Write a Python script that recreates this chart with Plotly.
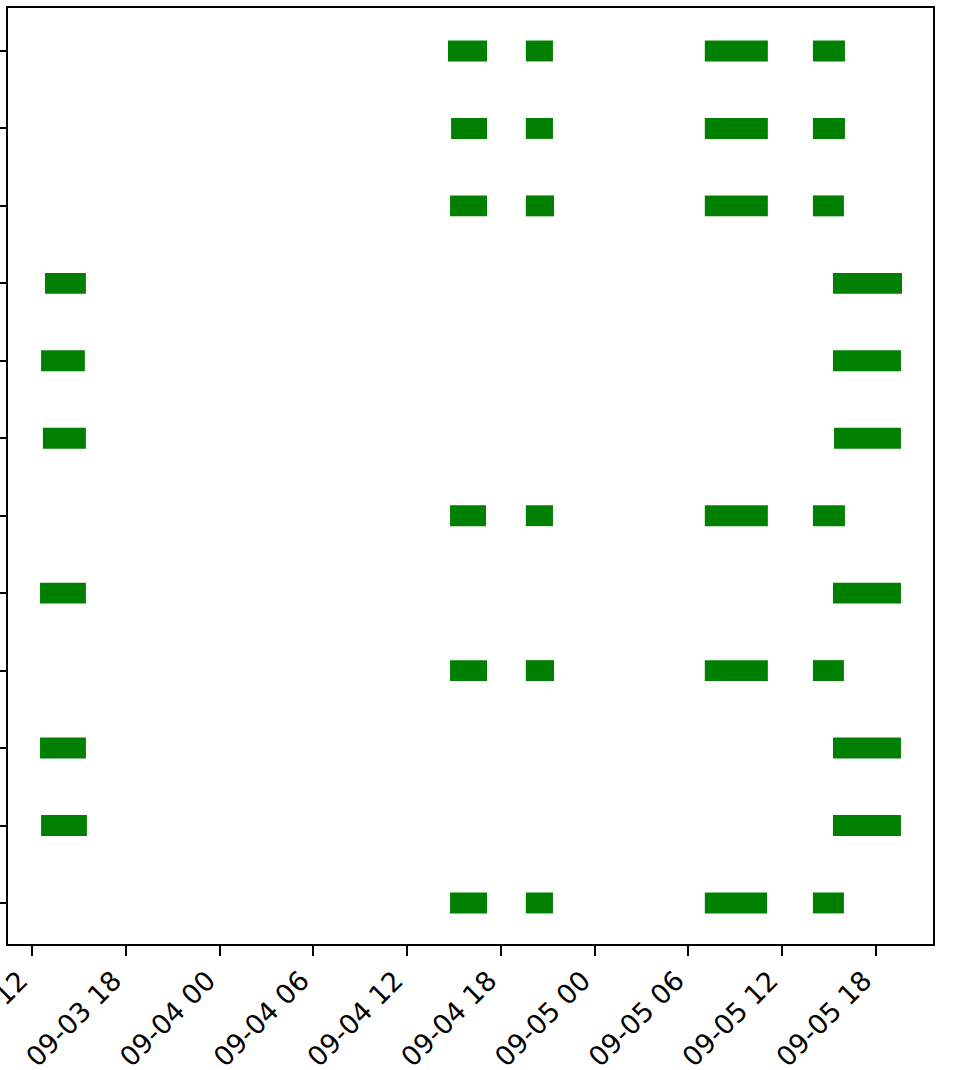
import plotly.graph_objects as go
import pandas as pd

# Lane index (0 = bottom row, 11 = top row) for each bar
bar_lane = [
    11, 11, 11, 11,
    10, 10, 10, 10,
    9, 9, 9, 9,
    8, 8,
    7, 7,
    6, 6,
    5, 5, 5, 5,
    4, 4,
    3, 3, 3, 3,
    2, 2,
    1, 1,
    0, 0, 0, 0,
]
bar_start = [
    "2024-09-04 14:37", "2024-09-04 19:36", "2024-09-05 07:03", "2024-09-05 13:58",
    "2024-09-04 14:49", "2024-09-04 19:36", "2024-09-05 07:03", "2024-09-05 13:58",
    "2024-09-04 14:45", "2024-09-04 19:36", "2024-09-05 07:03", "2024-09-05 13:58",
    "2024-09-03 12:50", "2024-09-05 15:15",
    "2024-09-03 12:35", "2024-09-05 15:15",
    "2024-09-03 12:42", "2024-09-05 15:19",
    "2024-09-04 14:45", "2024-09-04 19:36", "2024-09-05 07:03", "2024-09-05 13:58",
    "2024-09-03 12:31", "2024-09-05 15:15",
    "2024-09-04 14:45", "2024-09-04 19:36", "2024-09-05 07:03", "2024-09-05 13:58",
    "2024-09-03 12:31", "2024-09-05 15:15",
    "2024-09-03 12:35", "2024-09-05 15:15",
    "2024-09-04 14:45", "2024-09-04 19:36", "2024-09-05 07:03", "2024-09-05 13:58",
]
bar_end = [
    "2024-09-04 17:07", "2024-09-04 21:20", "2024-09-05 11:05", "2024-09-05 16:01",
    "2024-09-04 17:07", "2024-09-04 21:20", "2024-09-05 11:05", "2024-09-05 16:01",
    "2024-09-04 17:07", "2024-09-04 21:24", "2024-09-05 11:05", "2024-09-05 15:57",
    "2024-09-03 15:27", "2024-09-05 19:40",
    "2024-09-03 15:23", "2024-09-05 19:36",
    "2024-09-03 15:27", "2024-09-05 19:36",
    "2024-09-04 17:03", "2024-09-04 21:20", "2024-09-05 11:05", "2024-09-05 16:01",
    "2024-09-03 15:27", "2024-09-05 19:36",
    "2024-09-04 17:07", "2024-09-04 21:24", "2024-09-05 11:05", "2024-09-05 15:57",
    "2024-09-03 15:27", "2024-09-05 19:36",
    "2024-09-03 15:31", "2024-09-05 19:36",
    "2024-09-04 17:07", "2024-09-04 21:20", "2024-09-05 11:02", "2024-09-05 15:57",
]
lanes = list(range(12))
x_ticks = ["2024-09-03 12:00", "2024-09-03 18:00", "2024-09-04 00:00", "2024-09-04 06:00",
           "2024-09-04 12:00", "2024-09-04 18:00", "2024-09-05 00:00", "2024-09-05 06:00",
           "2024-09-05 12:00", "2024-09-05 18:00"]
x_tick_text = ["09-03 12", "09-03 18", "09-04 00", "09-04 06", "09-04 12",
               "09-04 18", "09-05 00", "09-05 06", "09-05 12", "09-05 18"]

starts = pd.to_datetime(bar_start)
ends = pd.to_datetime(bar_end)
durations = [(e - s).total_seconds() * 1000 for s, e in zip(starts, ends)]

fig = go.Figure(go.Bar(
    y=bar_lane,
    x=durations,
    base=[s.strftime("%Y-%m-%d %H:%M:%S") for s in starts],
    orientation="h",
    width=0.27,
    marker=dict(color="green", line=dict(width=0)),
    showlegend=False,
))

fig.update_layout(
    width=958, height=1070,
    margin=dict(l=8, r=25, t=8, b=126),
    plot_bgcolor="white", paper_bgcolor="white",
    font=dict(family="DejaVu Sans", size=27, color="black"),
)
fig.update_xaxes(
    type="date",
    range=["2024-09-03 10:28", "2024-09-05 21:39"],
    tickvals=x_ticks, ticktext=x_tick_text, tickangle=-45,
    ticklabeloverflow="allow", ticklabelshift=-12, ticklabelstandoff=-2,
    ticks="outside", ticklen=10, tickwidth=2, tickcolor="black",
    showline=True, linewidth=2, linecolor="black", mirror=True,
    showgrid=False, zeroline=False, automargin=False,
)
fig.update_yaxes(
    range=[-0.53, 11.555],
    tickvals=lanes, showticklabels=False,
    ticks="outside", ticklen=10, tickwidth=2, tickcolor="black",
    showline=True, linewidth=2, linecolor="black", mirror=True,
    showgrid=False, zeroline=False, automargin=False,
)

fig.write_html(
    "out.html",
    config={"displayModeBar": False},
    post_script="document.body.style.margin='0px';document.body.style.overflow='hidden';",
)
